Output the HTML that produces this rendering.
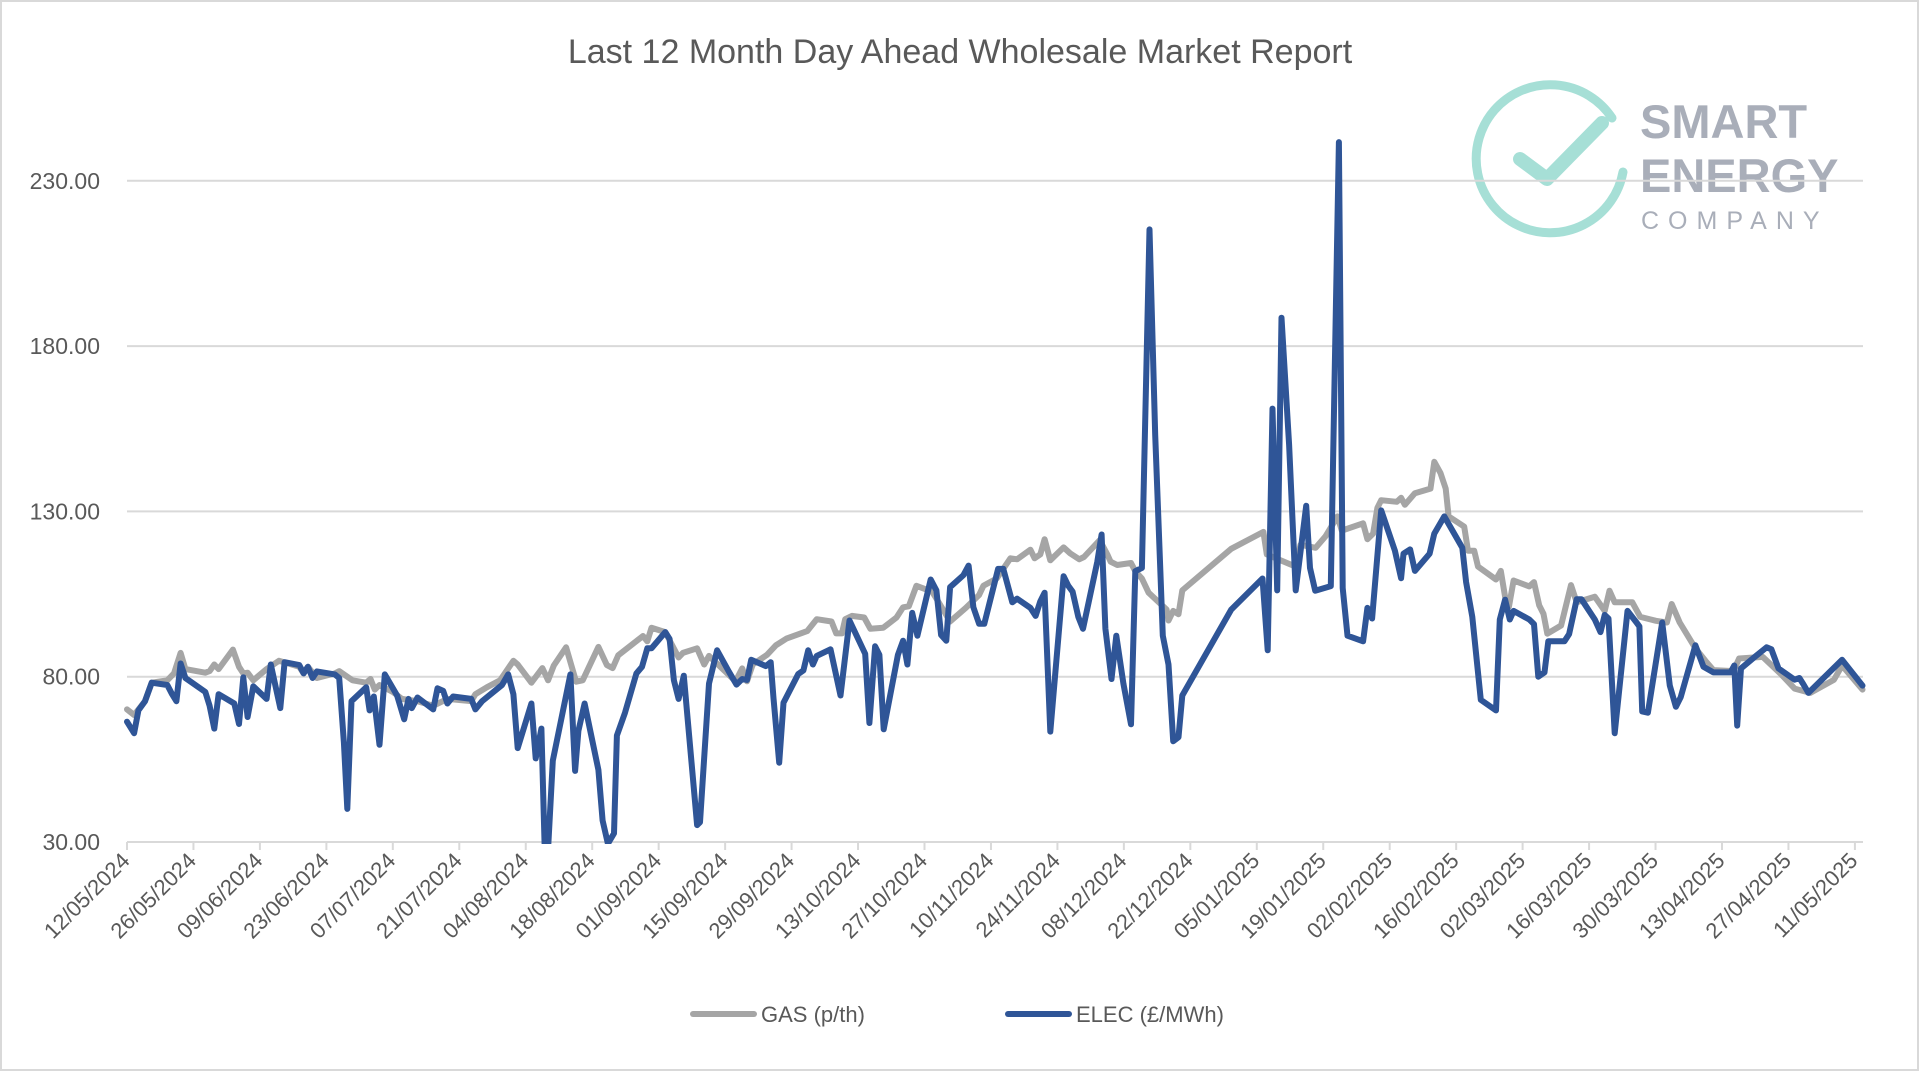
<!DOCTYPE html>
<html><head><meta charset="utf-8"><style>
html,body{margin:0;padding:0;background:#fff;}
svg{display:block;font-family:"Liberation Sans",sans-serif;}
</style></head><body>
<svg id="chart" width="1920" height="1072" viewBox="0 0 1920 1072">
<rect x="1" y="1" width="1917" height="1069" fill="#fff" stroke="#d9d9d9" stroke-width="2"/>
<text x="960" y="63" text-anchor="middle" font-size="34" fill="#595959">Last 12 Month Day Ahead Wholesale Market Report</text>
<g>
<path d="M1612,118 A74,74 0 1 0 1623,172" fill="none" stroke="#a6dfd6" stroke-width="9" stroke-linecap="round"/>
<path d="M1520,159 L1547,179 L1602,123" fill="none" stroke="#a6dfd6" stroke-width="14" stroke-linecap="round" stroke-linejoin="round"/>
<text x="1640" y="138" font-size="47" font-weight="bold" fill="#a9aeb9">SMART</text>
<text x="1640" y="192" font-size="47" font-weight="bold" fill="#a9aeb9">ENERGY</text>
<text x="1641" y="229" font-size="25" fill="#a9aeb9" letter-spacing="9">COMPANY</text>
</g>
<g id="grid"></g><g id="yaxis"></g><g id="xaxis"></g>
<defs><clipPath id="plotclip"><rect x="100" y="100" width="1780" height="744"/></clipPath></defs>
<g id="series" clip-path="url(#plotclip)"></g>
<g>
<g><line x1="693" y1="1014" x2="754" y2="1014" stroke="#a5a5a5" stroke-width="6" stroke-linecap="round"/><text x="761" y="1022" font-size="22" fill="#595959">GAS (p/th)</text></g>
<g><line x1="1008" y1="1014" x2="1069" y2="1014" stroke="#2f5597" stroke-width="6" stroke-linecap="round"/><text x="1076" y="1022" font-size="22" fill="#595959">ELEC (£/MWh)</text></g>
</g>
</svg>
<script>
const yTicks=[30,80,130,180,230];
const xTickLabels=["12/05/2024","26/05/2024","09/06/2024","23/06/2024","07/07/2024","21/07/2024","04/08/2024","18/08/2024","01/09/2024","15/09/2024","29/09/2024","13/10/2024","27/10/2024","10/11/2024","24/11/2024","08/12/2024","22/12/2024","05/01/2025","19/01/2025","02/02/2025","16/02/2025","02/03/2025","16/03/2025","30/03/2025","13/04/2025","27/04/2025","11/05/2025"];
const gasDays=[0,1.5,3.8,5.2,8.5,9.9,11.3,12.3,16.5,17.4,18.4,19.3,22.3,23.6,24.5,25.4,26.6,29.4,32,36.3,37.2,38.1,40,43.8,44.7,47.5,50.4,51.3,52.2,53.2,56,57.9,61.2,64.5,67.5,72.5,73.4,75.8,78.6,81.4,82.3,85.2,87.5,88.7,89.9,92.5,94.6,96,99.3,101.1,102.3,103.5,108.7,109.6,110.5,113.4,116.2,117.1,120.1,121.6,122.6,128.2,129.6,130.6,131.8,134.8,136.7,139,143.3,145.3,148.4,149.4,150.6,151.3,152.7,155.3,156.6,159.3,162.1,163.5,164.7,166.3,169.6,171,173.4,176.7,179.5,180.4,183.2,186.1,187.5,190.3,191.2,192.4,193.3,194.5,197.3,198.7,200.6,201.6,204.9,206.5,207.2,208.6,211.5,212.4,213.8,215.2,219,219.4,220.4,221.5,222.3,232.6,239.4,240.1,243,246.2,247.2,250.4,252.5,255,255.9,260.4,261.3,262.5,263.4,264.2,267.5,268.4,269.2,271.3,274.6,275.4,276.7,277.8,278.4,281.7,282.5,283.8,284.6,288.4,289.4,290.4,291.1,292.1,295.4,296.4,297.5,298.4,299.2,302.1,304.2,305.4,309.2,311.3,312.3,313.4,317.1,318.8,322.1,324.4,325.4,327.1,330.4,332.5,334.2,338.4,339.6,344.6,348.4,351.3,354.6,359.6,361.3,365.6];
const gasVals=[70.1,68.4,72.6,78.2,78.9,81,87.2,82.3,81.2,81.7,83.7,82.3,88.2,83,81,81.2,78.9,82.3,84.8,83,81,83,79.6,81,81.7,78.9,78.2,79.3,76.1,77.5,75.4,73.3,72.6,71.2,73.3,72.6,74.7,76.8,78.9,84.8,83.7,78.2,82.6,78.9,83.4,88.9,78.5,78.9,89,83.5,82.6,86.5,92.3,90.7,94.8,93.5,85.8,87.2,88.6,83.7,86.3,78.6,82.5,78.6,83.7,86.6,89.5,91.6,93.8,97.4,96.7,93.1,93.1,97.4,98.4,97.9,94.5,94.8,97.9,101,101.3,107.5,105.7,102.5,96.7,100.8,104.7,107.5,109.7,115.8,115.5,118.4,115.8,117,121.6,115.2,119.1,117.3,115.5,116.2,121.3,117,114.8,113.8,114.4,111.9,109.7,105.4,100.3,97,99.9,98.9,106.1,118.7,123.8,117,115.2,113.3,119.9,119,122.5,128.5,124.2,126.4,121.6,123.3,131.1,133.4,132.9,134.1,132,135.5,136.9,145,141.6,136.9,128.5,125.4,118.1,118.1,113.3,109.4,112,103.4,101.1,109.1,107.3,108.6,101.6,99,93,95.5,107.7,102.5,104.2,99.9,106,102.5,102.5,98.1,96.9,96.4,102,96.4,88.6,84.8,82,81.7,85.5,86,80.8,76.4,75.1,79.1,83.4,76.1];
const elecDays=[0,1.5,2.4,3.8,5.2,8.5,9.5,10.4,11.3,12.3,16.5,17.4,18.4,19.3,22.6,23.6,24.5,25.4,26.6,29.4,30.3,32.3,33.2,36.3,37.2,38.1,39.1,40,43.8,44.7,45.7,46.4,47.3,50.4,51.1,52,53.2,54.3,56.9,58.4,59.3,60,61.2,64.5,65.4,66.6,67.5,68.7,72.5,73.4,74.8,79,80.3,81.4,82.3,85.2,86.1,87.3,88,88.7,89.7,93.4,94.4,95.1,96.4,99.3,100.2,101.3,102.6,103.2,104.9,107.3,108.5,109.6,110.5,113.4,114.3,115.2,116.2,117.3,120.1,120.7,122.6,124.3,126.8,128.4,129.6,130.6,131.5,134.6,135.6,136.2,137.4,138.3,141.4,142.5,143.5,144.5,145.3,148.2,150.3,152.2,155.5,156.4,157.6,158.5,159.4,162.4,163.5,164.4,165.4,166.5,169.3,170.5,171.5,172.6,173.4,176.2,177.3,178.3,179.5,180.6,183.5,184.6,186.5,187.5,190.3,191.4,192.4,193.3,194.5,197.3,198.3,199.2,200.4,201.4,204.4,205.3,206.1,207.4,208.4,209.9,211.5,212.4,213.8,215.4,216.6,218.2,219.4,220.4,221.5,222.3,232.6,239.2,240.3,241.3,242.3,243.2,244.8,246.2,248.4,249.2,250.3,253.6,255.3,256.1,257.1,260.4,261.3,262.3,264.2,267.1,268.4,268.9,270.3,271.3,274.4,275.4,277.5,281.3,282.1,283.4,285.2,288.4,289.2,290.3,291.3,292.1,295.4,296.4,297.3,298.6,299.4,302.8,303.8,305.4,306.4,309.2,310.4,311.3,312.1,313.4,316.1,318,318.6,319.2,320.4,323.4,325,326.3,327.3,330.4,332.1,334.2,337.8,338.6,339.2,340,342.9,345.4,346.4,347.9,351.3,352.3,353.1,354.2,361.3,365.6];
const elecVals=[66.4,62.9,69.8,72.6,78.2,77.5,74.7,72.6,84,79.6,75.4,71.2,64.3,74.7,71.9,65.7,79.8,67.8,77.1,73.3,83.7,70.5,84.4,83.5,81,83,79.6,81.6,80.7,79.6,60.1,40,72.6,76.8,69.8,74,59.4,80.7,74.3,67.1,73.3,70.5,73.7,70.1,76.5,75.7,71.9,74,73.3,70.1,72.6,77.5,80.7,74.7,58.4,71.9,55.3,64.3,28,28,54.6,80.7,51.5,63.6,71.9,51.8,36.5,29.5,32.6,62.2,69.1,81,83,88.6,88.6,93.5,91.4,78.9,73.3,80.3,35.1,36,77.9,88,81.5,77.6,79.3,79,85.1,83.2,84.4,73.5,54,72.1,80.8,81.9,88,83.7,86.3,88.3,74.3,97,86.9,66,89.2,86.6,64.1,86.6,90.9,83.7,99.3,92.4,109.4,106.1,92.6,90.9,107.1,110.7,113.6,101,96,96,112.6,112.6,102.5,103.6,100.8,98.4,102.8,105.4,63.4,110.4,107.5,105.7,98.1,94.5,114.8,123,94.5,79.3,92.4,77.9,65.6,111.9,112.9,215.3,153.1,92.4,83.7,60.5,61.7,74.3,100.3,109.7,88,161.1,106.1,188.6,150.2,106.1,131.7,112.9,106,107.4,241.7,106.8,92.4,90.7,100.8,97.6,130.3,118.1,109.8,117.2,118.5,112,117.2,123.3,128.5,119,108.6,98.1,73,69.8,97.3,103.3,97.3,99.9,97.3,95.9,80,81.3,90.7,90.7,92.9,103.4,103.4,97.3,93.5,98.7,97.6,62.9,99.9,96.4,95.2,69.5,69.1,96.4,77.3,70.9,73.8,89.5,83,81.3,81.3,83.4,65.2,82.5,86,88.9,88.3,82.5,79.1,79.6,77.8,75.1,85.1,77.3];

const NS="http://www.w3.org/2000/svg";
const X0=127,PXDAY=4.747,Y0=842,PXUNIT=3.306,XR=1863;
function xScale(d){return X0+d*PXDAY;}
function yScale(v){return Y0-(v-30)*PXUNIT;}
function mk(tag,attrs,parent){const e=document.createElementNS(NS,tag);for(const k in attrs)e.setAttribute(k,attrs[k]);parent.appendChild(e);return e;}
const grid=document.getElementById('grid'),yax=document.getElementById('yaxis'),xax=document.getElementById('xaxis'),ser=document.getElementById('series');
yTicks.forEach(t=>{
  const y=yScale(t);
  const l=mk('line',{x1:X0,x2:XR,y1:y,y2:y,stroke:'#d9d9d9','stroke-width':2},grid);
  
  
  const tx=mk('text',{x:100,y:y+8,'text-anchor':'end','font-size':23,fill:'#595959'},yax);
  tx.textContent=t.toFixed(2);
  
  
});
xTickLabels.forEach((lab,i)=>{
  const x=xScale(i*14);
  const tk=mk('line',{x1:x,x2:x,y1:Y0,y2:Y0+8,stroke:'#d9d9d9','stroke-width':2},xax);
  
  
  const tx=mk('text',{x:x+4,y:Y0+20,'text-anchor':'end','font-size':22,fill:'#595959',transform:`rotate(-45 ${x+4} ${Y0+20})`},xax);
  tx.textContent=lab;
  
  
});
function line(days,vals,color,name){
  const d=days.map((dd,i)=>(i?'L':'M')+xScale(dd).toFixed(1)+','+yScale(vals[i]).toFixed(1)).join('');
  const p=mk('path',{d:d,fill:'none',stroke:color,'stroke-width':6,'stroke-linejoin':'round','stroke-linecap':'round'},ser);
  
  
}
line(gasDays,gasVals,'#a5a5a5','gas-line');
line(elecDays,elecVals,'#2f5597','elec-line');
</script>
</body></html>
